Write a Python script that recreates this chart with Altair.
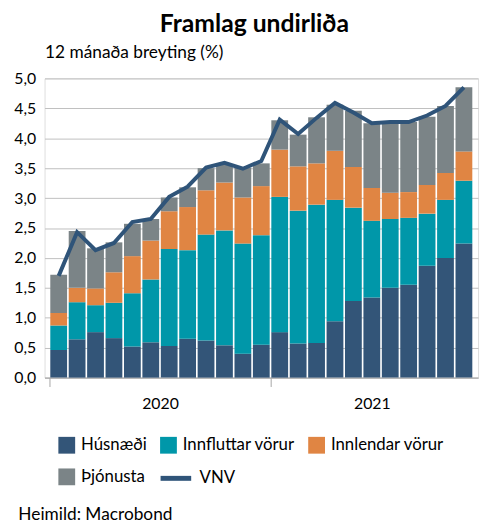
import altair as alt
import pandas as pd

months = ["2020-01", "2020-02", "2020-03", "2020-04", "2020-05", "2020-06",
          "2020-07", "2020-08", "2020-09", "2020-10", "2020-11", "2020-12",
          "2021-01", "2021-02", "2021-03", "2021-04", "2021-05", "2021-06",
          "2021-07", "2021-08", "2021-09", "2021-10", "2021-11"]
husnaedi = [0.46, 0.64, 0.76, 0.66, 0.52, 0.59, 0.53, 0.65, 0.62, 0.54, 0.40, 0.55,
            0.76, 0.57, 0.58, 0.94, 1.28, 1.34, 1.50, 1.55, 1.87, 2.00, 2.24]
innfluttar = [0.41, 0.62, 0.45, 0.59, 0.89, 1.05, 1.62, 1.48, 1.77, 1.92, 1.84, 1.83,
              2.26, 2.22, 2.31, 2.03, 1.56, 1.28, 1.15, 1.12, 0.87, 0.97, 1.05]
innlendar = [0.21, 0.24, 0.28, 0.51, 0.62, 0.65, 0.63, 0.72, 0.74, 0.80, 0.77, 0.82,
             0.79, 0.74, 0.69, 0.82, 0.68, 0.55, 0.44, 0.43, 0.48, 0.45, 0.49]
thjonusta = [0.64, 0.95, 0.67, 0.50, 0.54, 0.36, 0.23, 0.33, 0.37, 0.30, 0.50, 0.38,
             0.49, 0.53, 0.77, 0.77, 0.94, 1.08, 1.15, 1.17, 1.14, 1.12, 1.07]
vnv = [1.70, 2.43, 2.13, 2.25, 2.60, 2.65, 3.02, 3.19, 3.51, 3.59, 3.49, 3.62,
       4.31, 4.07, 4.34, 4.59, 4.43, 4.25, 4.27, 4.27, 4.38, 4.54, 4.85]
years = ["2020", "2021"]
y_ticks = [0.0, 0.5, 1.0, 1.5, 2.0, 2.5, 3.0, 3.5, 4.0, 4.5, 5.0]
categories = ["Húsnæði", "Innfluttar vörur", "Innlendar vörur", "Þjónusta"]
cat_colors = ["#335578", "#0097a9", "#e08543", "#7b8487"]
line_name = "VNV"
line_color = "#2f5479"

FONT = "Lato"

series = [husnaedi, innfluttar, innlendar, thjonusta]
rows = []
for i, m in enumerate(months):
    for k, c in enumerate(categories):
        rows.append({"month": m, "pos": i + 0.5, "cat": c, "val": series[k][i], "o": k})
bars_df = pd.DataFrame(rows)
line_df = pd.DataFrame({"month": months,
                        "pos": [i + 0.5 for i in range(len(months))],
                        "vnv": vnv, "s": [line_name] * len(months)})

# year boundaries and centres from the month list
year_starts, year_centres = [], []
for y in years:
    idx = [i for i, m in enumerate(months) if m.startswith(y)]
    year_starts.append(min(idx))
    year_centres.append((min(idx) + max(idx) + 1) / 2)
label_expr = " : ".join(
    [f"datum.value == {c} ? '{y}'" for c, y in zip(year_centres, years)] + ["''"])
tick_test = " || ".join([f"datum.value == {s}" for s in year_starts])

x_scale = alt.Scale(domain=[0, len(months)], nice=False, zero=False)
x_axis = alt.Axis(
    values=year_starts + year_centres,
    labelExpr=label_expr,
    tickOpacity={"condition": {"test": tick_test, "value": 1}, "value": 0},
    grid=False,
    tickSize=9,
    tickColor="#a6a6a6",
    domainColor="#a6a6a6",
    labelPadding=9,
    labelFontSize=16,
    labelFont=FONT,
    labelColor="#000000",
    labelOverlap=False,
    title="Heimild: Macrobond",
    titleFont=FONT,
    titleFontSize=17.5,
    titleFontWeight="normal",
    titleColor="#000000",
    titleAlign="left",
    titleBaseline="top",
    titleX=-27,
    titleY=130,
)

y_scale = alt.Scale(domain=[0, 5], nice=False)
y_axis = alt.Axis(
    values=y_ticks,
    labelExpr="replace(format(datum.value, '.1f'), '.', ',')",
    grid=True,
    gridColor="#bfbfbf",
    domain=False,
    ticks=False,
    labelPadding=9,
    labelFontSize=16,
    labelFont=FONT,
    labelColor="#000000",
    labelOverlap=False,
    title="12 mánaða breyting (%)",
    titleFont=FONT,
    titleFontSize=17.5,
    titleFontWeight="normal",
    titleColor="#000000",
    titleAngle=0,
    titleAlign="left",
    titleBaseline="middle",
    titleX=0,
    titleY=-26,
)

bars = alt.Chart(bars_df).mark_bar(width=17, orient="vertical").encode(
    x=alt.X("pos:Q", scale=x_scale, axis=x_axis),
    y=alt.Y("val:Q", stack="zero", scale=y_scale, axis=y_axis),
    color=alt.Color(
        "cat:N",
        scale=alt.Scale(domain=categories, range=cat_colors),
        sort=categories,
        legend=alt.Legend(
            title=None, orient="none", legendX=14, legendY=363, columns=3,
            direction="horizontal", values=categories,
            symbolType="square", symbolSize=289, symbolStrokeWidth=0,
            symbolOpacity=1, labelFont=FONT, labelFontSize=17,
            labelColor="#000000", columnPadding=13, rowPadding=14,
            labelOffset=6,
        ),
    ),
    order=alt.Order("o:Q"),
)

line = alt.Chart(line_df).mark_line(strokeWidth=4).encode(
    x=alt.X("pos:Q", scale=x_scale, axis=x_axis),
    y=alt.Y("vnv:Q", scale=y_scale, axis=y_axis),
    color=alt.Color(
        "s:N",
        scale=alt.Scale(domain=[line_name], range=[line_color]),
        legend=alt.Legend(
            title=None, orient="none", legendX=115, legendY=387,
            symbolType="stroke", symbolSize=961, symbolStrokeWidth=5,
            labelFont=FONT, labelFontSize=17, labelColor="#000000",
            labelOffset=6,
        ),
    ),
)

chart = alt.layer(bars, line).resolve_scale(color="independent").properties(
    width=439,
    height=303,
    title=alt.Title("Framlag undirliða", font=FONT, fontSize=25,
                    fontWeight="bold", color="#000000", anchor="middle",
                    dx=-7, offset=7),
    padding={"left": 5, "top": 1, "right": 5, "bottom": 0},
).configure_view(stroke=None).configure(background="white")

chart.save("out.html", embed_options={"renderer": "svg", "actions": False})
